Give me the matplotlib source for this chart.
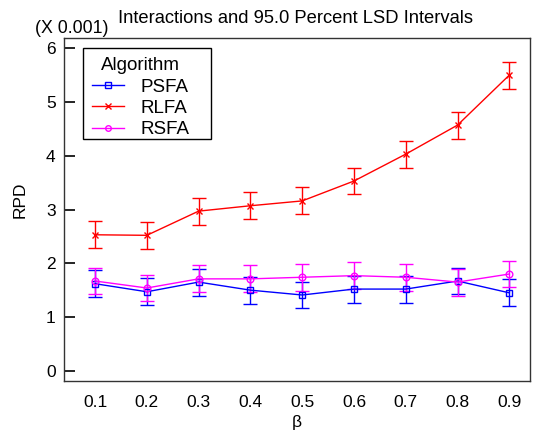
import numpy as np
import matplotlib
matplotlib.use('Agg')
import matplotlib.pyplot as plt
from matplotlib.lines import Line2D
from matplotlib.patches import Rectangle

plt.rcParams['font.family'] = ['Liberation Sans', 'DejaVu Sans']

# beta levels and mean RPD (units of 0.001), with LSD half-widths
beta = [0.1, 0.2, 0.3, 0.4, 0.5, 0.6, 0.7, 0.8, 0.9]
psfa = [1.62, 1.47, 1.65, 1.50, 1.41, 1.52, 1.52, 1.67, 1.45]
rlfa = [2.53, 2.52, 2.97, 3.07, 3.16, 3.53, 4.03, 4.57, 5.50]
rsfa = [1.67, 1.54, 1.71, 1.71, 1.74, 1.77, 1.74, 1.65, 1.80]
lsd = 0.25

series = [
    ('PSFA', psfa, 'blue', 's'),
    ('RLFA', rlfa, 'red', 'x'),
    ('RSFA', rsfa, 'magenta', 'o'),
]

fig = plt.figure(figsize=(5.35, 4.34), dpi=100)
ax = fig.add_axes([0.1196, 0.1221, 0.8711, 0.7903])

handles = []
for name, vals, col, mk in series:
    ax.errorbar(beta, vals, yerr=lsd, color=col, marker=mk, ms=4.8,
                mfc='none', mec=col, mew=1, lw=1, elinewidth=1,
                capsize=5, capthick=1)
    # legend keys without the error bars
    handles.append(Line2D([], [], color=col, marker=mk, ms=4, mfc='none',
                          mec=col, mew=1, lw=1, label=name))

ax.set_xlim(0.04, 0.94)
ax.set_ylim(-0.19, 6.19)
ax.set_xticks(beta)
ax.set_xticklabels([str(b) for b in beta])
ax.set_yticks(range(0, 7))
ax.tick_params(axis='y', direction='in', length=8, width=1.2, labelsize=12.5, pad=6)
ax.tick_params(axis='x', length=0, labelsize=12.5, pad=10)
for sp in ax.spines.values():
    sp.set_color('#333333')
    sp.set_linewidth(1)

ax.set_ylabel('RPD', fontsize=12.5)
ax.yaxis.set_label_coords(-0.079, 0.528)
ax.set_xlabel('β', fontsize=12.5, labelpad=4)
fig.text(0.553, 0.957, 'Interactions and 95.0 Percent LSD Intervals',
         ha='center', va='center', fontsize=13.2)
fig.text(0.065, 0.935, '(X 0.001)', ha='left', va='center', fontsize=12.8)

leg = ax.legend(handles=handles, title='Algorithm', loc='upper left',
                bbox_to_anchor=(0.0407, 0.971),
                borderaxespad=0, fontsize=13.5, title_fontsize=13.5,
                frameon=False, handlelength=1.7, handletextpad=0.85,
                labelspacing=0.22, borderpad=0.5)
# legend box drawn by hand (the original has a wide right margin)
ax.add_patch(Rectangle((0.0407, 0.7055), 0.2747, 0.2655, transform=ax.transAxes,
                       fill=True, facecolor='white', edgecolor='black', lw=1,
                       zorder=4.9))

fig.savefig('out.png', dpi=100)
